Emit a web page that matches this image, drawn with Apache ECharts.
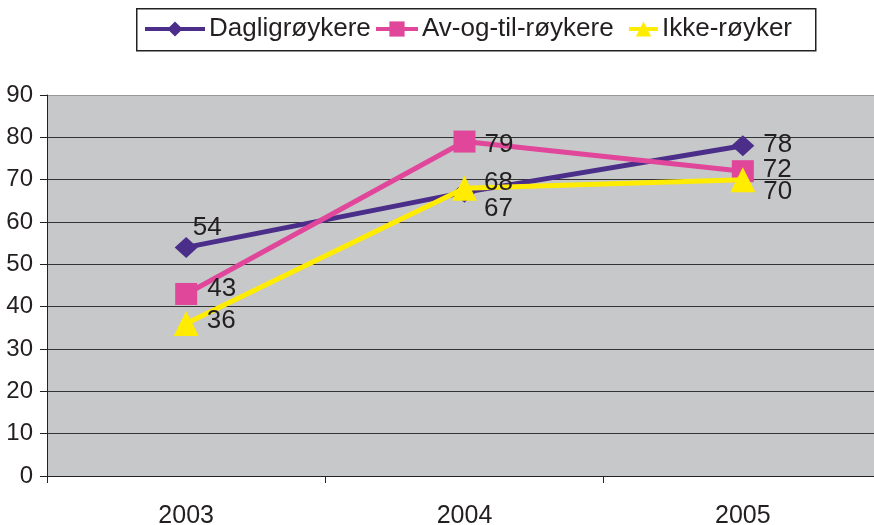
<!DOCTYPE html>
<html><head><meta charset="utf-8">
<script src="https://cdn.jsdelivr.net/npm/echarts@6/dist/echarts.min.js"></script>
<style>html,body{margin:0;padding:0;background:#fff}#c{width:874px;height:525px}</style>
</head><body><div id="c"></div>
<script>
const categories = ['2003', '2004', '2005'];
const seriesNames = ['Dagligrøykere', 'Av-og-til-røykere', 'Ikke-røyker'];
const daglig = [54, 67, 78];
const avOgTil = [43, 79, 72];
const ikke = [36, 68, 70];
const yTicks = [0, 10, 20, 30, 40, 50, 60, 70, 80, 90];

const FONT = '"Liberation Sans", Arial, sans-serif';
const TXT = '#231f20';
const colors = ['#4b2d8a', '#e0479a', '#ffec00'];
const symbols = ['diamond', 'rect', 'triangle'];
const symSizes = [[23, 21], 22, 25];
const offsets = [
  [[-10, -20], [3, 16], [4, -1]],
  [[5, -5], [4, 3], [4, -1]],
  [[3, -3], [2, -5], [3, 12]]
];
const dataSets = [daglig, avOgTil, ikke];

const chart = echarts.init(document.getElementById('c'), null, {renderer: 'canvas'});
const legendDefs = [
  {left: 143, w: 60},
  {left: 374, w: 42},
  {left: 627, w: 29}
];
chart.setOption({
  animation: false,
  color: colors,
  textStyle: {fontFamily: FONT},
  graphic: [{
    type: 'rect', left: 136, top: 8, shape: {width: 679, height: 42},
    style: {fill: '#fff', stroke: '#222', lineWidth: 1.5}, z: -1
  }],
  legend: legendDefs.map((d, i) => ({
    data: [seriesNames[i]],
    left: d.left, top: 16, padding: 0,
    itemWidth: d.w, itemHeight: 19,
    itemGap: 0,
    lineStyle: {width: 4},
    textStyle: {fontFamily: FONT, fontSize: 26, color: TXT, padding: [0, 0, 0, -1]},
    selectedMode: false,
    z: 5
  })),
  grid: {left: 47, width: 835, top: 95, bottom: 49, containLabel: false, outerBoundsMode: 'none'},
  xAxis: {
    type: 'category', data: categories, boundaryGap: true,
    axisLine: {lineStyle: {color: '#222', width: 1}},
    axisTick: {show: true, length: 7, lineStyle: {color: '#222'}},
    axisLabel: {fontFamily: FONT, fontSize: 25, color: TXT, margin: 28}
  },
  yAxis: {
    type: 'value', min: yTicks[0], max: yTicks[yTicks.length - 1], interval: 10,
    axisLine: {show: true, lineStyle: {color: '#222', width: 1}},
    axisTick: {show: true, length: 7, lineStyle: {color: '#222'}},
    axisLabel: {fontFamily: FONT, fontSize: 24, color: TXT, margin: 14},
    splitLine: {show: true, lineStyle: {color: ['#222','#333','#333','#333','#333','#333','#333','#333','#333','#999'], width: 1}},
    splitArea: {show: true, areaStyle: {color: ['#c7c8ca']}}
  },
  series: dataSets.map((arr, i) => ({
    name: seriesNames[i],
    type: 'line',
    data: arr.map((v, j) => ({
      value: v,
      label: {offset: offsets[i][j]}
    })),
    symbol: symbols[i],
    symbolSize: symSizes[i],
    showAllSymbol: true,
    lineStyle: {width: 5, color: colors[i]},
    itemStyle: {color: colors[i]},
    z: 2 + i,
    label: {
      show: true, position: 'right', distance: 5,
      fontFamily: FONT, fontSize: 26, color: TXT
    }
  }))
});
</script></body></html>
